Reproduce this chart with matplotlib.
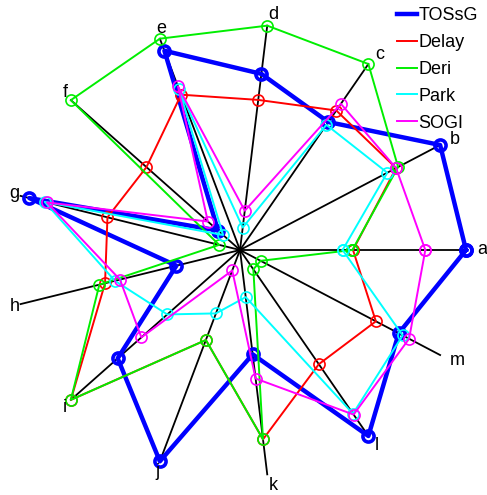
import numpy as np
import matplotlib
matplotlib.use("Agg")
import matplotlib.pyplot as plt

plt.rcParams['font.family'] = ['Liberation Sans', 'DejaVu Sans']

# Spoke names and normalised scores of each method (1.0 = outer ring)
labels = ['a', 'b', 'c', 'd', 'e', 'f', 'g', 'h', 'i', 'j', 'k', 'l', 'm']
TOSsG = [1.0, 1.0, 0.688, 0.785, 0.943, 0.13, 0.96, 0.29, 0.723, 1.0, 0.465, 1.0, 0.793]
Delay = [0.50, 0.78, 0.75, 0.669, 0.735, 0.553, 0.604, 0.615, 1.0, 0.426, 0.844, 0.614, 0.679]
Deri = [0.497, 0.79, 1.0, 1.0, 1.0, 1.0, 0.095, 0.641, 1.0, 0.426, 0.844, 0.104, 0.103]
Park = [0.454, 0.736, 0.673, 0.10, 0.76, 0.10, 0.89, 0.57, 0.43, 0.30, 0.21, 0.88, 0.813]
SOGI = [0.82, 0.78, 0.786, 0.175, 0.774, 0.19, 0.88, 0.547, 0.583, 0.097, 0.573, 0.885, 0.845]

series = [
    ('TOSsG', TOSsG, '#0000ff', 3.2, 2.6),
    ('Delay', Delay, '#ff0000', 1.4, 1.2),
    ('Deri', Deri, '#00ee00', 1.4, 1.2),
    ('Park', Park, '#00ffff', 1.4, 1.2),
    ('SOGI', SOGI, '#ff00ff', 1.4, 1.2),
]

n = len(labels)
theta = np.arange(n) * 2 * np.pi / n

fig = plt.figure(figsize=(4.87, 4.95), dpi=100)
ax = fig.add_axes([0, 0, 1, 1])
scale = 226.0
ax.set_xlim(-240 / scale, (487 - 240) / scale)
ax.set_ylim(-(495 - 250) / scale, 250 / scale)
ax.set_aspect('equal')
ax.axis('off')

# spokes and their labels
for t, lab in zip(theta, labels):
    ax.plot([0, np.cos(t)], [0, np.sin(t)], color='black', lw=1.3, zorder=1)
    ax.text(1.05 * np.cos(t), 1.05 * np.sin(t), lab, fontsize=13,
            ha='left', va='center', color='black')

# closed polygons for each method
for name, vals, col, lw, mew in series:
    r = np.array(vals + vals[:1])
    t = np.concatenate([theta, theta[:1]])
    ax.plot(r * np.cos(t), r * np.sin(t), color=col, lw=lw, marker='o',
            markersize=8, markerfacecolor='none', markeredgewidth=mew,
            label=name, zorder=2)

leg = ax.legend(loc='upper left', bbox_to_anchor=(397 / 487, 1 - 7 / 495),
                frameon=False, fontsize=13, handlelength=1.1,
                handletextpad=0.1, labelspacing=0.55, borderpad=0,
                borderaxespad=0)
for h in leg.get_lines():
    h.set_marker('')

fig.savefig('out.png', dpi=100)
